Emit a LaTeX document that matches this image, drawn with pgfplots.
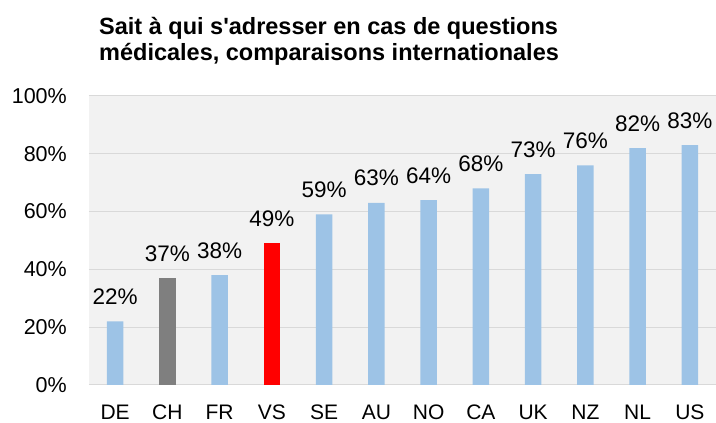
\documentclass[border=0pt]{standalone}
\usepackage{fontspec}
\setmainfont{Liberation Sans}
\usepackage{pgfplots}
\pgfplotsset{compat=1.18}
\definecolor{barblue}{HTML}{9DC3E6}
\definecolor{bargray}{HTML}{7F7F7F}
\definecolor{barred}{HTML}{FF0000}
\definecolor{bggray}{HTML}{F2F2F2}
\definecolor{gridgray}{HTML}{D9D9D9}
\begin{document}
\begin{tikzpicture}
\useasboundingbox (-89pt,-38pt) rectangle (627pt,385pt);
\begin{axis}[
  at={(0pt,0pt)}, anchor=south west,
  scale only axis, width=627pt, height=289pt,
  xmin=-0.5, xmax=11.5, ymin=0, ymax=100,
  xtick={0,...,11},
  xticklabels={DE,CH,FR,VS,SE,AU,NO,CA,UK,NZ,NL,US},
  ytick={0,20,40,60,80,100},
  yticklabel={\pgfmathprintnumber{\tick}\%},
  /pgf/number format/assume math mode=true,
  major tick length=0pt,
  axis line style={draw=none},
  axis background/.style={fill=bggray},
  ymajorgrids, grid style={gridgray, line width=1pt},
  xticklabel style={font=\fontsize{21}{24}\selectfont, anchor=base, inner sep=0pt, yshift=-34.5pt},
  yticklabel style={font=\fontsize{21.5}{24}\selectfont, anchor=east, inner sep=0pt, xshift=-22pt},
  ybar, bar width=16.5pt, bar shift=0pt,
  nodes near coords={\pgfmathprintnumber{\pgfplotspointmeta}\%},
  every node near coord/.append style={font=\fontsize{22.5}{26}\selectfont, anchor=base, inner sep=0pt, yshift=17pt, black},
  clip=false,
]
\addplot[fill=barblue, draw=none] coordinates {(0,22) (2,38) (4,59) (5,63) (6,64) (7,68) (8,73) (9,76) (10,82) (11,83)};
\addplot[fill=bargray, draw=none] coordinates {(1,37)};
\addplot[fill=barred, draw=none] coordinates {(3,49)};
\end{axis}
\node[anchor=base west, inner sep=0pt, font=\fontsize{23.5}{27}\selectfont\bfseries] at (10pt,350.7pt) {Sait à qui s\textquotesingle adresser en cas de questions};
\node[anchor=base west, inner sep=0pt, font=\fontsize{23.5}{27}\selectfont\bfseries] at (10pt,324pt) {médicales, comparaisons internationales};
\end{tikzpicture}
\end{document}
